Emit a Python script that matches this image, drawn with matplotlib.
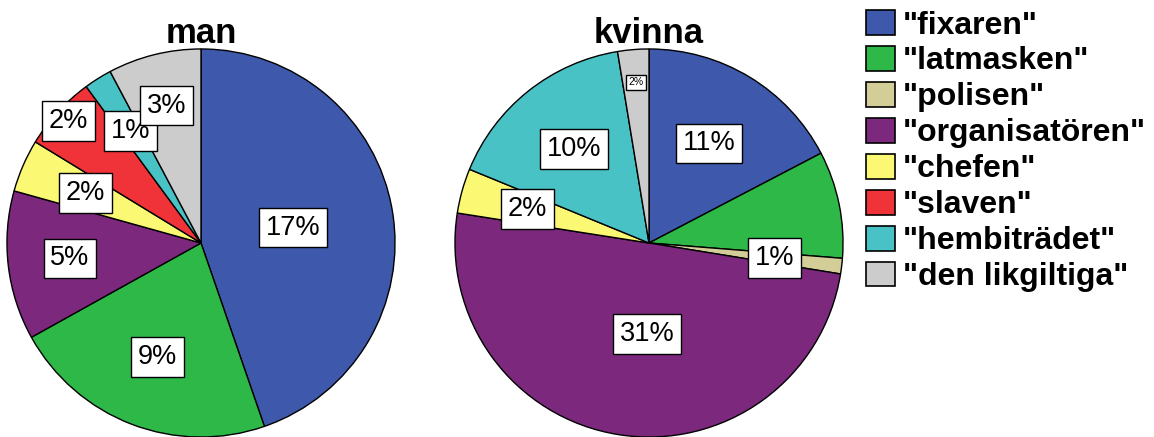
import numpy as np
import matplotlib
matplotlib.use("Agg")
import matplotlib.pyplot as plt

plt.rcParams['font.family'] = ['Liberation Sans', 'DejaVu Sans']

# categories (legend order) and colours
categories = ['"fixaren"', '"latmasken"', '"polisen"', '"organisatören"',
              '"chefen"', '"slaven"', '"hembiträdet"', '"den likgiltiga"']
colors = ["#3E58AC", "#2EB848", "#D3CE97", "#7C287D",
          "#FBF873", "#EF3338", "#48C2C5", "#CCCCCC"]

# share of all respondents (%)
man_values = [17.3, 8.6, 0.0, 4.8, 1.7, 2.4, 0.9, 3.0]
kvinna_values = [10.7, 5.5, 0.8, 30.8, 2.3, 0.0, 10.0, 1.6]

# labels as printed in the chart ("" = no label shown)
man_labels = ["17%", "9%", "", "5%", "2%", "2%", "1%", "3%"]
kvinna_labels = ["11%", "", "1%", "31%", "2%", "", "10%", "2%"]

# label placement (fraction of radius, angle shift in deg) and font size
man_lab_r = [0.48, 0.63, 0.6, 0.68, 0.65, 0.93, 0.68, 0.73]
man_lab_da = [0, 0, 0, 0, 0, 0, 0, 0]
kvinna_lab_r = [0.60, 0.6, 0.65, 0.47, 0.65, 0.6, 0.62, 0.83]
kvinna_lab_da = [0, 0, 0, 8, 0, 0, 0, 0]
man_lab_fs = [19.5] * 8
kvinna_lab_fs = [19.5, 19.5, 19.5, 19.5, 19.5, 19.5, 19.5, 7.5]

W, H = 1154, 437
fig = plt.figure(figsize=(W / 100, H / 100), dpi=100)


def draw_pie(cx, cy, r, values, labels, lab_r, lab_da, lab_fs, title):
    ax = fig.add_axes([(cx - r) / W, (H - cy - r) / H, 2 * r / W, 2 * r / H])
    keep = [i for i, v in enumerate(values) if v > 0]
    wedges, _ = ax.pie([values[i] for i in keep], colors=[colors[i] for i in keep],
                       startangle=90, counterclock=False, radius=1,
                       wedgeprops=dict(edgecolor="black", linewidth=1.0))
    for w, i in zip(wedges, keep):
        if not labels[i]:
            continue
        mid = np.deg2rad((w.theta1 + w.theta2) / 2 + lab_da[i])
        ax.text(lab_r[i] * np.cos(mid), lab_r[i] * np.sin(mid), labels[i],
                ha="center", va="center", fontsize=lab_fs[i],
                bbox=dict(boxstyle="square,pad=0.25", facecolor="white",
                          edgecolor="black", linewidth=1.0))
    ax.set_xlim(-1.005, 1.005)
    ax.set_ylim(-1.005, 1.005)
    ax.set_aspect("equal")
    ax.axis("off")
    fig.text(cx / W, (H - 43) / H, title, ha="center", va="baseline",
             fontsize=25, fontweight="bold")


draw_pie(201, 243, 195, man_values, man_labels, man_lab_r, man_lab_da,
         man_lab_fs, "man")
draw_pie(649, 243, 195, kvinna_values, kvinna_labels, kvinna_lab_r, kvinna_lab_da,
         kvinna_lab_fs, "kvinna")

handles = [plt.Rectangle((0, 0), 1, 1, facecolor=c, edgecolor="black", linewidth=1.2)
           for c in colors]
fig.legend(handles, categories, loc="upper left", bbox_to_anchor=(866 / W, 1 - 10 / H),
           frameon=False, prop=dict(size=23, weight="bold"),
           handlelength=0.9, handleheight=0.82, handletextpad=0.25,
           labelspacing=0.17, borderpad=0, borderaxespad=0)

fig.savefig("out.png", dpi=100)
